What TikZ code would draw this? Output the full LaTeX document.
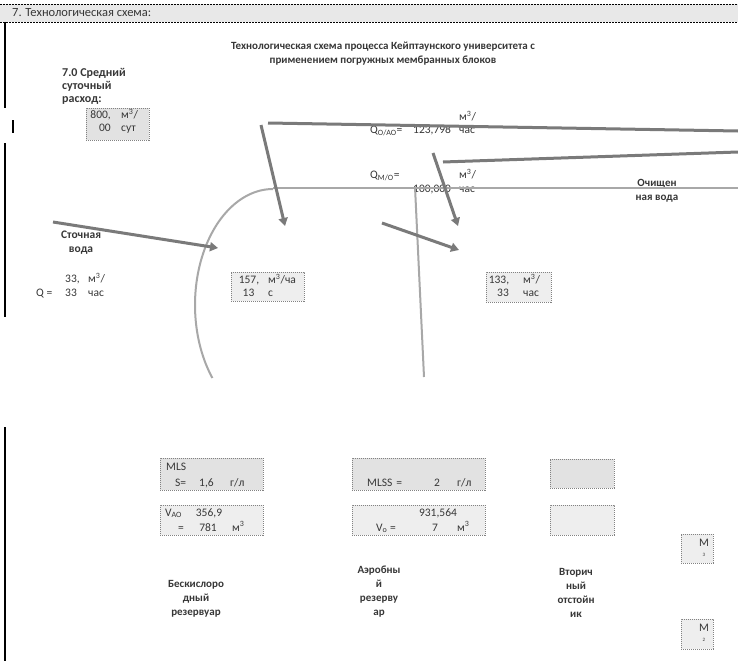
\documentclass[tikz,border=0pt]{standalone}
\usepackage{fontspec}
\setmainfont{Carlito}
\usetikzlibrary{arrows.meta}

\newcommand{\cubic}{м\textsuperscript{3}}

\begin{document}
\begin{tikzpicture}[x=1pt, y=-1pt, >={Triangle[length=8pt, width=9pt]},
    font=\fontsize{11.5}{13.5}\selectfont,
    cellbox/.style={draw=schedge, dash pattern=on 1.2pt off 0.8pt, line width=0.7pt, fill=schcell, inner sep=0pt},
    darkcell/.style={cellbox, fill=schcelldark},
    celltext/.style={inner sep=0pt, text=schtext},
    tanklabel/.style={inner sep=0pt, text=schtext, align=center, font=\bfseries\fontsize{11}{14}\selectfont},
    flow/.style={line width=3pt, schdark},
    pipe/.style={line width=2pt, schlight},
    border/.style={line width=1.6pt, black}
]

% Colores
\definecolor{schhead}{RGB}{232, 232, 232}
\definecolor{schcell}{RGB}{238, 238, 238}
\definecolor{schcelldark}{RGB}{226, 226, 226}
\definecolor{schedge}{RGB}{130, 130, 130}
\definecolor{schtext}{RGB}{55, 55, 55}
\definecolor{schdark}{RGB}{122, 122, 122}
\definecolor{schlight}{RGB}{168, 168, 168}

\fill[white] (0,0) rectangle (738,661);
\useasboundingbox (0,0) rectangle (738,661);

% ============ Cabecera de la hoja ============
\fill[schhead] (0,4) rectangle (738,22);
\draw[black, line width=0.8pt, dash pattern=on 2pt off 1pt] (0,4) -- (738,4);
\draw[black, line width=0.8pt, dash pattern=on 2pt off 1pt] (0,22) -- (738,22);
\node[celltext, anchor=west, font=\fontsize{12.5}{14}\selectfont] (hdr) at (12,13) {7. Технологическая схема:};

% Bordes izquierdos
\draw[border] (5,22) -- (5,108);
\draw[border] (13,120) -- (13,133);
\draw[border] (5,143) -- (5,317);
\draw[border] (5,427) -- (5,661);

% Título
\node[tanklabel] (title) at (383,54) {Технологическая схема процесса Кейптаунского университета с\\применением погружных мембранных блоков};

% ============ Caudal medio diario ============
\node[tanklabel, align=left, anchor=north west, font=\bfseries\fontsize{12}{13}\selectfont] (avg) at (62,68) {7.0 Средний\\суточный\\расход:};
\node[darkcell, minimum width=63pt, minimum height=32pt] (boxday) at (117.5,124) {};
\node[celltext, anchor=base east] (dayval1) at (111,118.5) {800,};
\node[celltext, anchor=base east] (dayval2) at (111,131.5) {00};
\node[celltext, anchor=base west] (dayunit1) at (121,118.5) {\cubic/};
\node[celltext, anchor=base west] (dayunit2) at (121,131.5) {сут};

% ============ Caudales de recirculación ============
\node[celltext, anchor=base west] (qoao) at (370,133.5) {Q\textsubscript{О/АО}=};
\node[celltext, anchor=base west] (qoaoval) at (413,133.5) {123,798};
\node[celltext, anchor=base west] (qoaou1) at (459,120.5) {\cubic/};
\node[celltext, anchor=base west] (qoaou2) at (459,133.5) {час};

\node[celltext, anchor=base west] (qmo) at (370,178.5) {Q\textsubscript{М/О}=};
\node[celltext, anchor=base west] (qmoval) at (413,192.5) {100,000};
\node[celltext, anchor=base west] (qmou1) at (459,178.5) {\cubic/};
\node[celltext, anchor=base west] (qmou2) at (459,192.5) {час};

\node[tanklabel] (clean) at (657,190.5) {Очищен\\ная вода};

% ============ Entrada de agua residual ============
\node[tanklabel, font=\bfseries\fontsize{11.5}{14}\selectfont] (sewage) at (81,243) {Сточная\\вода};
\node[celltext, anchor=base west] (qin) at (36,296.5) {Q =};
\node[celltext, anchor=base west] (qinval1) at (65,282.5) {33,};
\node[celltext, anchor=base west] (qinval2) at (65,296.5) {33};
\node[celltext, anchor=base west] (qinu1) at (88,282.5) {\cubic/};
\node[celltext, anchor=base west] (qinu2) at (88,296.5) {час};

% Caudales en los tanques
\node[cellbox, minimum width=73pt, minimum height=29pt] (box157) at (267.5,286.5) {};
\node[celltext, anchor=base] (v157a) at (249,283.5) {157,};
\node[celltext, anchor=base] (v157b) at (248.5,296.5) {13};
\node[celltext, anchor=base west] (u157a) at (268,283.5) {\cubic/ча};
\node[celltext, anchor=base west] (u157b) at (268,296.5) {с};

\node[cellbox, minimum width=65pt, minimum height=30pt] (box133) at (518.5,287) {};
\node[celltext, anchor=base] (v133a) at (499,283.5) {133,};
\node[celltext, anchor=base] (v133b) at (503,296.5) {33};
\node[celltext, anchor=base west] (u133a) at (523,283.5) {\cubic/};
\node[celltext, anchor=base west] (u133b) at (523,296.5) {час};

% ============ Tuberías y flechas ============
\coordinate (topA1) at (268,123);
\coordinate (topA2) at (738,131);
\coordinate (topB1) at (443,162);
\coordinate (topB2) at (738,152);
\coordinate (outC1) at (273,188);
\coordinate (outC2) at (738,188);
\coordinate (riserT) at (415,187);
\coordinate (riserB) at (424,377);
\coordinate (feed1) at (261,125);
\coordinate (tip1) at (285,226);
\coordinate (feed2) at (433,153);
\coordinate (tip2) at (458,226);
\coordinate (feed3) at (53,222);
\coordinate (tip3) at (218,248);
\coordinate (feed4) at (382,223);
\coordinate (tip4) at (459,250);

\draw[pipe] plot[domain=90:219, samples=60] ({273+78*cos(\x)}, {305-116*sin(\x)});
\draw[pipe] (outC1) -- (outC2);
\draw[pipe] (riserT) -- (riserB);
\draw[flow] (topA1) -- (topA2);
\draw[flow] (topB1) -- (topB2);
\draw[flow, ->] (feed1) -- (tip1);
\draw[flow, ->] (feed2) -- (tip2);
\draw[flow, ->] (feed3) -- (tip3);
\draw[flow, ->] (feed4) -- (tip4);

% ============ Parámetros de los tanques ============
\node[darkcell, minimum width=103pt, minimum height=32pt] (boxmls) at (211.5,474) {};
\node[celltext, anchor=base west] (mls) at (166,470.5) {MLS};
\node[celltext, anchor=base west] (mlss) at (175,486) {S=};
\node[celltext, anchor=base west] (mlsval) at (199,486) {1,6};
\node[celltext, anchor=base west] (mlsunit) at (230,486) {г/л};

\node[darkcell, minimum width=133pt, minimum height=32pt] (boxmlss) at (418.5,474) {};
\node[celltext, anchor=base west] (mlss2) at (367,486) {MLSS\,\,=};
\node[celltext, anchor=base] (mlss2val) at (437,486) {2};
\node[celltext, anchor=base west] (mlss2unit) at (457,486) {г/л};

\node[cellbox, minimum width=103pt, minimum height=30pt] (boxvao) at (211.5,520) {};
\node[celltext, anchor=base west] (vao) at (165,516) {V\textsubscript{АО}};
\node[celltext, anchor=base] (vaoeq) at (181,531) {=};
\node[celltext, anchor=base] (vaoval1) at (209,516) {356,9};
\node[celltext, anchor=base] (vaoval2) at (208,531) {781};
\node[celltext, anchor=base west] (vaounit) at (232,531) {\cubic};

\node[cellbox, minimum width=133pt, minimum height=30pt] (boxvo) at (418.5,520) {};
\node[celltext, anchor=base] (voval1) at (438,516) {931,564};
\node[celltext, anchor=base west] (vo) at (376,531) {V\textsubscript{о} =};
\node[celltext, anchor=base] (voval2) at (435,531) {7};
\node[celltext, anchor=base west] (vounit) at (457,531) {\cubic};

\node[darkcell, minimum width=64pt, minimum height=29pt] (boxsec1) at (582,473.5) {};
\node[cellbox, minimum width=64pt, minimum height=30pt] (boxsec2) at (582,520) {};

% Bombas
\node[cellbox, minimum width=32pt, minimum height=29pt] (pump3) at (697,548.5) {};
\node[celltext, anchor=base] (pump3m) at (704,546.5) {М};
\node[celltext, anchor=base, font=\fontsize{5}{6}\selectfont] (pump3n) at (704,556) {3};
\node[cellbox, minimum width=32pt, minimum height=30pt] (pump2) at (697,634) {};
\node[celltext, anchor=base] (pump2m) at (704,631.5) {М};
\node[celltext, anchor=base, font=\fontsize{5}{6}\selectfont] (pump2n) at (704,641) {2};

% Nombres de los tanques
\node[tanklabel] (anox) at (196,599) {Бескислоро\\дный\\резервуар};
\node[tanklabel] (aero) at (379,592) {Аэробны\\й\\резерву\\ар};
\node[tanklabel] (settle) at (576,592.5) {Вторич\\ный\\отстойн\\ик};

\end{tikzpicture}
\end{document}
